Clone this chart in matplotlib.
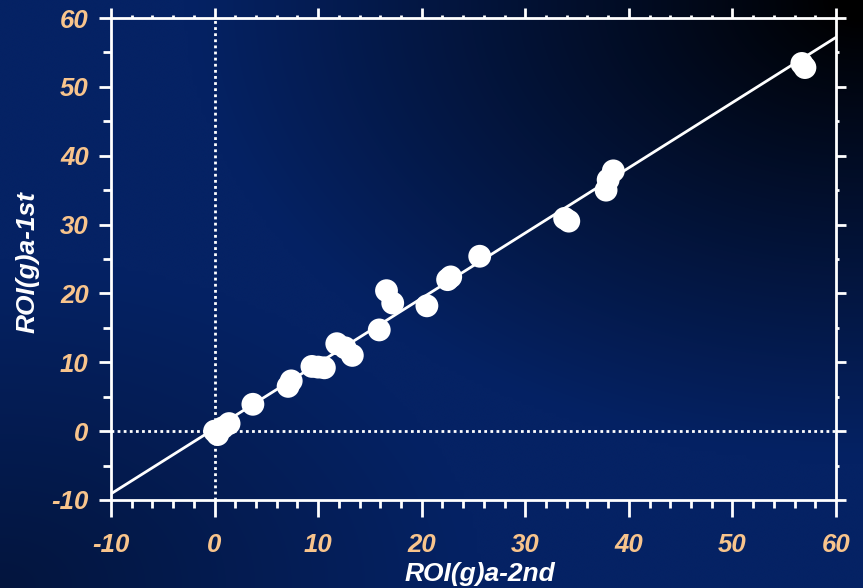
import numpy as np
import matplotlib
matplotlib.use("Agg")
import matplotlib.pyplot as plt
from matplotlib.ticker import MultipleLocator

plt.rcParams['font.family'] = ['Liberation Sans', 'DejaVu Sans']
plt.rcParams['axes.unicode_minus'] = False

# data
roi_2nd = [56.7, 57.0, 38.5, 38.0, 37.8, 33.8, 34.2, 25.6, 22.5, 22.8,
           20.5, 16.6, 17.2, 15.9, 11.8, 12.6, 13.3, 9.4, 10.0, 10.6,
           7.4, 7.1, 3.7, 1.4, 0.8, 0.3, 0.0]
roi_1st = [53.4, 52.8, 37.8, 36.5, 35.0, 30.9, 30.5, 25.4, 22.0, 22.4,
           18.2, 20.4, 18.6, 14.7, 12.7, 12.1, 11.0, 9.4, 9.3, 9.2,
           7.3, 6.5, 3.9, 1.1, 0.5, -0.5, 0.0]
fit_slope = 0.947
fit_intercept = 0.37
x_ticks = [-10, 0, 10, 20, 30, 40, 50, 60]
y_ticks = [-10, 0, 10, 20, 30, 40, 50, 60]

TICK_COLOR = '#f8c48c'
W, H = 863, 588

fig = plt.figure(figsize=(W / 100, H / 100), dpi=100)

# background gradient
bg = fig.add_axes([0, 0, 1, 1])
u, v = np.meshgrid(np.linspace(0, 1, 200), np.linspace(0, 1, 140))
d_tr = np.sqrt((1 - u) ** 2 + v ** 2)
d_bl = np.sqrt(u ** 2 + (1 - v) ** 2)
f = np.clip((d_tr - 0.03) / 0.75, 0, 1) ** 0.9
g = 0.62 + 0.38 * np.clip(d_bl / 0.55, 0, 1)
base = np.array([5, 34, 100]) / 255.0
img = base[None, None, :] * (f * g)[:, :, None]
bg.imshow(img, aspect='auto', extent=[0, 1, 0, 1], origin='upper',
          interpolation='bicubic')
bg.set_axis_off()

ax = fig.add_axes([111 / W, 1 - 500 / H, 725 / W, 482 / H])
ax.patch.set_alpha(0)

ax.axvline(0, color='white', linestyle=(0, (1, 1.2)), linewidth=2, zorder=1)
ax.axhline(0, color='white', linestyle=(0, (1, 1.2)), linewidth=2, zorder=1)

xs = np.array([-10, 60])
ax.plot(xs, fit_slope * xs + fit_intercept, color='white', linewidth=2,
        zorder=2)
ax.scatter(roi_2nd, roi_1st, s=270, color='white', edgecolors='none',
           zorder=3)

ax.set_xlim(-10, 60)
ax.set_ylim(-10, 60)
ax.set_xticks(x_ticks)
ax.set_yticks(y_ticks)
ax.xaxis.set_minor_locator(MultipleLocator(2))
ax.yaxis.set_minor_locator(MultipleLocator(5))

for s in ax.spines.values():
    s.set_color('white')
    s.set_linewidth(2)

ax.tick_params(axis='both', which='both', direction='out', color='white',
               top=True, right=True, width=2)
ax.tick_params(axis='x', which='major', length=12, pad=12)
ax.tick_params(axis='x', which='minor', length=6)
ax.tick_params(axis='y', which='major', length=9, pad=7)
ax.tick_params(axis='y', which='minor', length=6)

for t in ax.xaxis.get_major_ticks():
    t.tick2line.set_markersize(7)
for t in ax.xaxis.get_minor_ticks():
    t.tick2line.set_markersize(2.5)
for t in ax.yaxis.get_major_ticks():
    t.tick2line.set_markersize(7)
for t in ax.yaxis.get_minor_ticks():
    t.tick2line.set_markersize(2.5)

for lab in ax.get_xticklabels() + ax.get_yticklabels():
    lab.set_color(TICK_COLOR)
    lab.set_fontsize(18.5)
    lab.set_fontweight('bold')
    lab.set_fontstyle('italic')

ax.set_xlabel('ROI(g)a-2nd', color='white', fontsize=19, fontweight='bold',
              fontstyle='italic', va='center')
ax.set_ylabel('ROI(g)a-1st', color='white', fontsize=19, fontweight='bold',
              fontstyle='italic', va='center')
ax.xaxis.set_label_coords((480 - 111) / 725, (500 - 574) / 482)
ax.yaxis.set_label_coords((28 - 111) / 725, (500 - 262) / 482)

fig.savefig('out.png', dpi=100)
